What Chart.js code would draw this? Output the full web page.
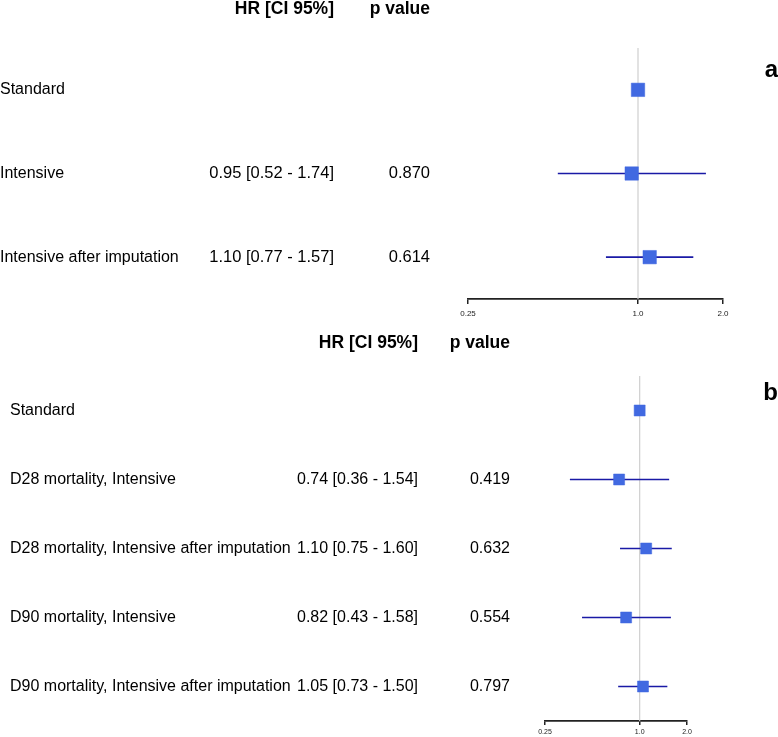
<!DOCTYPE html>
<html>
<head>
<meta charset="utf-8">
<script src="https://cdn.jsdelivr.net/npm/chart.js@4.4.1/dist/chart.umd.min.js"></script>
<style>
  html, body { margin: 0; padding: 0; background: #ffffff; }
  #wrap { position: relative; width: 778px; height: 737px; overflow: hidden; }
  canvas { position: absolute; left: 0; }
  #cA { top: 0; }
  #cB { top: 330px; }
</style>
</head>
<body>
<div id="wrap">
  <canvas id="cA" width="778" height="330"></canvas>
  <canvas id="cB" width="778" height="407"></canvas>
</div>
<script>
// ---------- DATA ----------
const headers = ["HR [CI 95%]", "p value"];
const xTicks = [0.25, 1.0, 2.0];
const xTickLabels = ["0.25", "1.0", "2.0"];

// Panel a
const aLabels = ["Standard", "Intensive", "Intensive after imputation"];
const aHR = [1.0, 0.95, 1.10];
const aLow = [null, 0.52, 0.77];
const aHigh = [null, 1.74, 1.57];
const aHRText = ["", "0.95 [0.52 - 1.74]", "1.10 [0.77 - 1.57]"];
const aPText = ["", "0.870", "0.614"];

// Panel b
const bLabels = ["Standard", "D28 mortality, Intensive", "D28 mortality, Intensive after imputation",
                 "D90 mortality, Intensive", "D90 mortality, Intensive after imputation"];
const bHR = [1.0, 0.74, 1.10, 0.82, 1.05];
const bLow = [null, 0.36, 0.75, 0.43, 0.73];
const bHigh = [null, 1.54, 1.60, 1.58, 1.50];
const bHRText = ["", "0.74 [0.36 - 1.54]", "1.10 [0.75 - 1.60]", "0.82 [0.43 - 1.58]", "1.05 [0.73 - 1.50]"];
const bPText = ["", "0.419", "0.632", "0.554", "0.797"];

// ---------- DRAWING ----------
const FONT = "'Liberation Sans', Arial, Helvetica, sans-serif";

function makePanel(canvasId, spec) {
  const n = spec.labels.length;
  const datasets = [];
  // reference line at 1.0
  datasets.push({
    type: 'scatter', showLine: true, order: 3,
    data: [{x: 1, y: -0.5}, {x: 1, y: n - 0.5}],
    borderColor: '#cfcfcf', borderWidth: 1.2, pointRadius: 0
  });
  // CI lines
  for (let i = 0; i < n; i++) {
    if (spec.low[i] == null) continue;
    datasets.push({
      type: 'scatter', showLine: true, order: 2,
      data: [{x: spec.low[i], y: i}, {x: spec.high[i], y: i}],
      borderColor: '#1a1aa6', borderWidth: 1.6, pointRadius: 0
    });
  }
  // point estimates
  datasets.push({
    type: 'scatter', order: 1,
    data: spec.hr.map((v, i) => ({x: v, y: i})),
    pointStyle: 'rect', pointRadius: spec.boxR, pointHoverRadius: spec.boxR,
    backgroundColor: '#4169e1', borderColor: '#4169e1', borderWidth: 0.5
  });

  const textPlugin = {
    id: 'forestText',
    afterDraw(chart) {
      const ctx = chart.ctx;
      const ys = chart.scales.y;
      ctx.save();
      ctx.fillStyle = '#000';
      ctx.textBaseline = 'middle';
      // headers
      ctx.font = 'bold ' + spec.headSize + 'px ' + FONT;
      ctx.textAlign = 'right';
      ctx.fillText(headers[0], spec.hrRight, spec.headY);
      ctx.fillText(headers[1], spec.pRight, spec.headY);
      // rows
      for (let i = 0; i < n; i++) {
        const y = ys.getPixelForValue(i);
        ctx.font = spec.textSize + 'px ' + FONT;
        ctx.textAlign = 'left';
        ctx.fillText(spec.labels[i], spec.labelX, y);
        ctx.textAlign = 'right';
        ctx.font = spec.numSize + 'px ' + FONT;
        ctx.fillText(spec.hrText[i], spec.hrRight, y);
        ctx.fillText(spec.pText[i], spec.pRight, y);
      }
      // panel letter
      ctx.font = 'bold 24px ' + FONT;
      ctx.textAlign = 'right';
      ctx.fillText(spec.letter, 778, spec.letterY);
      ctx.restore();
    }
  };

  return new Chart(document.getElementById(canvasId), {
    type: 'scatter',
    data: { datasets },
    options: {
      responsive: false, animation: false, devicePixelRatio: 1,
      layout: { padding: { left: spec.padL, right: spec.padR, top: spec.padT, bottom: 0 } },
      plugins: { legend: { display: false }, tooltip: { enabled: false } },
      scales: {
        x: {
          type: 'logarithmic', min: 0.25, max: 2, position: 'bottom',
          afterBuildTicks(scale) { scale.ticks = xTicks.map(v => ({value: v})); },
          afterFit(scale) { scale.height = spec.axisH; },
          ticks: {
            autoSkip: false, maxRotation: 0, padding: spec.tickPad,
            color: '#222', font: { family: FONT, size: spec.tickSize },
            callback: (v, i) => xTickLabels[i]
          },
          grid: { display: true, drawOnChartArea: false, drawTicks: true,
                  tickLength: spec.tickLen, color: '#222', lineWidth: 1.5 },
          border: { display: true, color: '#222', width: 1.8 }
        },
        y: { type: 'linear', min: -0.5, max: n - 0.5, reverse: true, display: false }
      }
    },
    plugins: [textPlugin]
  });
}

makePanel('cA', {
  labels: aLabels, hr: aHR, low: aLow, high: aHigh, hrText: aHRText, pText: aPText,
  padL: 468, padR: 55, padT: 48, axisH: 31, tickLen: 5, tickPad: 5, tickSize: 8,
  boxR: 9.5, textSize: 16, numSize: 16.5, headSize: 17.5, headY: 9, hrRight: 334, pRight: 430,
  labelX: 0, letter: 'a', letterY: 70
});

makePanel('cB', {
  labels: bLabels, hr: bHR, low: bLow, high: bHigh, hrText: bHRText, pText: bPText,
  padL: 545, padR: 91, padT: 46, axisH: 16, tickLen: 4, tickPad: 3, tickSize: 7,
  boxR: 7.8, textSize: 16, numSize: 16, headSize: 17.5, headY: 13, hrRight: 418, pRight: 510,
  labelX: 10, letter: 'b', letterY: 63
});
</script>
</body>
</html>
